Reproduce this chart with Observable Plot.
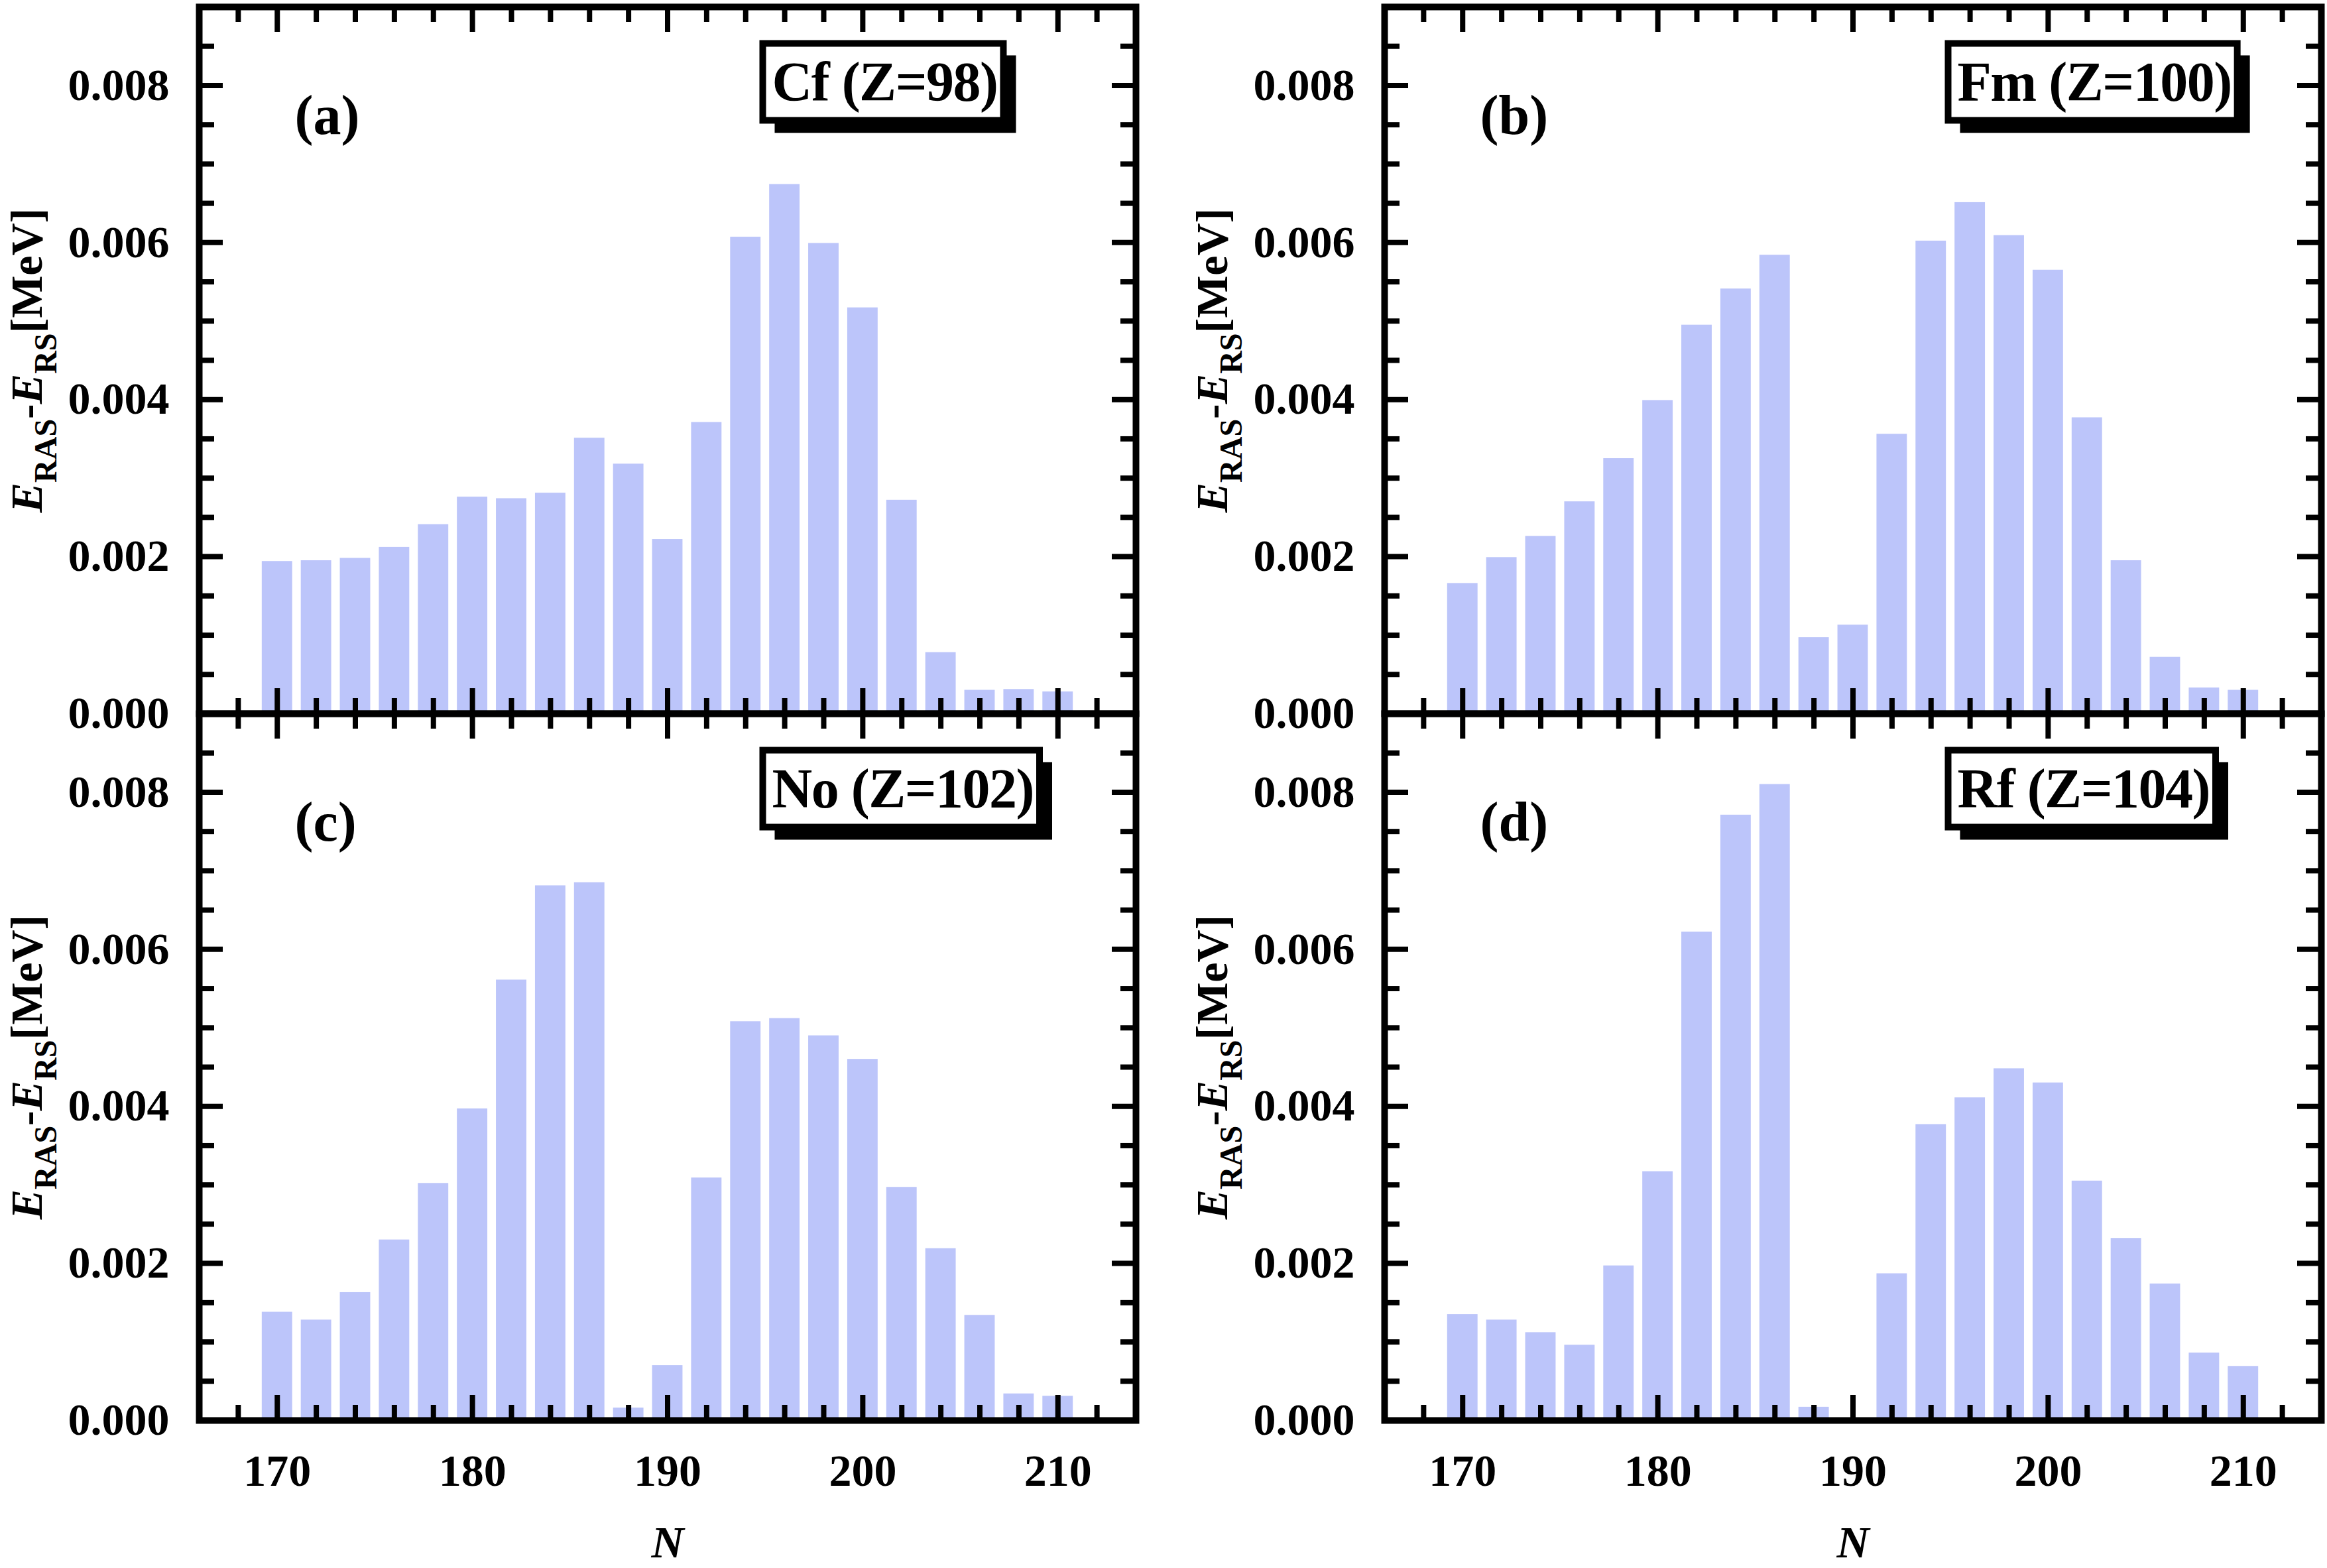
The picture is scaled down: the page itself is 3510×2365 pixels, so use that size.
<!DOCTYPE html>
<html><head><meta charset="utf-8">
<script src="https://cdn.jsdelivr.net/npm/d3@7"></script>
<script src="https://cdn.jsdelivr.net/npm/@observablehq/plot@0.6"></script>
<style>
html,body{margin:0;padding:0;background:#fff;}
#chart{position:relative;width:3510px;height:2365px;background:#fff;overflow:hidden;}
.panel{position:absolute;}
</style></head><body><div id="chart"></div>
<script>
// Neutron numbers
const N = [170,172,174,176,178,180,182,184,186,188,190,192,194,196,198,200,202,204,206,208,210];
// E_RAS - E_RS [MeV] per element
const cf = [0.00194,0.00195,0.00198,0.00212,0.00241,0.00276,0.00274,0.00281,0.00351,0.00318,0.00222,0.00371,0.00607,0.00674,0.00599,0.00517,0.00272,0.00078,0.00030,0.00031,0.00028];
const fm = [0.00166,0.00199,0.00226,0.00270,0.00325,0.00399,0.00495,0.00541,0.00584,0.00097,0.00113,0.00356,0.00602,0.00651,0.00609,0.00565,0.00377,0.00195,0.00072,0.00033,0.00030];
const no = [0.00138,0.00128,0.00163,0.00230,0.00302,0.00397,0.00561,0.00681,0.00685,0.00016,0.00070,0.00309,0.00508,0.00512,0.00490,0.00460,0.00297,0.00219,0.00134,0.00034,0.00031];
const rf = [0.00135,0.00128,0.00112,0.00096,0.00197,0.00317,0.00622,0.00771,0.00810,0.00017,0,0.00187,0.00377,0.00411,0.00448,0.00430,0.00305,0.00232,0.00174,0.00086,0.00069];
// panel titles
const panelIds = ["a","b","c","d"];
const panelNames = ["Cf (Z=98)","Fm (Z=100)","No (Z=102)","Rf (Z=104)"];
const panelValues = [cf, fm, no, rf];
const yLabelText = "ERAS-ERS[MeV]";
// ticks
const xMajor = [170,180,190,200,210];
const xMinor = [168,172,174,176,178,182,184,186,188,192,194,196,198,202,204,206,208,212];
const yMajor = [0,0.002,0.004,0.006,0.008];
const yMinor = [0.0005,0.001,0.0015,0.0025,0.003,0.0035,0.0045,0.005,0.0055,0.0065,0.007,0.0075,0.0085];

const barColor = "#bcc5fa";
const cols = [{left:0,width:1755,mL:300,mR:42},{left:1786,width:1724,mL:302,mR:9}];
const rows = [{top:0,height:1076,mT:10,mB:0},{top:1076,height:1289,mT:0,mB:223}];

const chart = document.getElementById("chart");
const ns = "http://www.w3.org/2000/svg";

function findText(svg, content) {
  return Array.from(svg.querySelectorAll("text")).find(t => t.textContent === content);
}

panelIds.forEach((id, i) => {
  const c = cols[i % 2], r = rows[Math.floor(i / 2)];
  const bottom = i >= 2;
  const pw = c.width - c.mL - c.mR, ph = r.height - r.mT - r.mB;
  const data = N.map((n, k) => ({N: n, E: panelValues[i][k]}));
  const plot = Plot.plot({
    width: c.width, height: r.height,
    marginLeft: c.mL, marginRight: c.mR, marginTop: r.mT, marginBottom: r.mB,
    x: {domain: [166, 214], axis: null},
    y: {domain: [0, 0.009], axis: null},
    style: {fontFamily: '"Liberation Serif", "Times New Roman", serif', fontSize: "68px", fontWeight: "bold",
            background: "transparent", overflow: "visible", maxWidth: "none", color: "#000"},
    marks: [
      Plot.rect(data, {x1: d => d.N - 1, x2: d => d.N + 1, y1: 0, y2: "E", fill: barColor, insetLeft: 6.5, insetRight: 6.5}),
      Plot.ruleX(xMajor, {insetTop: ph - 38, strokeWidth: 8}),
      Plot.ruleX(xMinor, {insetTop: ph - 23, strokeWidth: 8}),
      Plot.ruleX(xMajor, {insetBottom: ph - 38, strokeWidth: 8}),
      Plot.ruleX(xMinor, {insetBottom: ph - 23, strokeWidth: 8}),
      Plot.ruleY(yMajor, {insetRight: pw - 36, strokeWidth: 8}),
      Plot.ruleY(yMinor, {insetRight: pw - 23, strokeWidth: 8}),
      Plot.ruleY(yMajor, {insetLeft: pw - 36, strokeWidth: 8}),
      Plot.ruleY(yMinor, {insetLeft: pw - 23, strokeWidth: 8}),
      Plot.frame({strokeWidth: 10}),
      Plot.axisY(yMajor, {tickSize: 0, tickPadding: 45, tickFormat: d3.format(".3f"), fontSize: 68, label: null}),
      bottom ? Plot.axisX(xMajor, {tickSize: 0, tickPadding: 50, tickFormat: d => String(d), fontSize: 68, label: null}) : null,
      bottom ? Plot.text(["N"], {text: d => d, frameAnchor: "bottom", dy: 206, lineAnchor: "bottom", fontSize: 68, fontStyle: "italic"}) : null,
      Plot.text([`(${id})`], {text: d => d, frameAnchor: "top-left", dx: 144, dy: 191, lineAnchor: "bottom", textAnchor: "start", fontSize: 84}),
      Plot.text([panelNames[i]], {text: d => d, frameAnchor: "top-left", dx: 864, dy: 141, lineAnchor: "bottom", textAnchor: "start", fontSize: 84}),
      Plot.text([yLabelText], {text: d => d, frameAnchor: "left", dx: -238, rotate: -90, lineAnchor: "bottom", textAnchor: "middle", fontSize: 68})
    ]
  });
  const div = document.createElement("div");
  div.className = "panel";
  div.style.left = c.left + "px";
  div.style.top = r.top + "px";
  div.style.width = c.width + "px";
  div.style.height = r.height + "px";
  div.appendChild(plot);
  chart.appendChild(div);

  // boxed element label with drop shadow
  const zt = findText(plot, panelNames[i]);
  if (zt) {
    zt.style.letterSpacing = "-1.5px";
    const bb = zt.getBBox();
    const parent = zt.parentNode;
    const tr = zt.getAttribute("transform");
    const x0 = bb.x - 19, x1 = bb.x + bb.width + 14, y0 = bb.y - 16, y1 = bb.y + bb.height + 16;
    const sh = document.createElementNS(ns, "rect");
    sh.setAttribute("x", x0 + 23); sh.setAttribute("y", y0 + 23);
    sh.setAttribute("width", (x1 + 14) - (x0 + 23)); sh.setAttribute("height", (y1 + 14) - (y0 + 23));
    sh.setAttribute("fill", "#000"); sh.setAttribute("stroke", "none");
    const bx = document.createElementNS(ns, "rect");
    bx.setAttribute("x", x0 + 5); bx.setAttribute("y", y0 + 5);
    bx.setAttribute("width", x1 - x0 - 10); bx.setAttribute("height", y1 - y0 - 10);
    bx.setAttribute("fill", "#fff"); bx.setAttribute("stroke", "#000"); bx.setAttribute("stroke-width", 10);
    if (tr) { sh.setAttribute("transform", tr); bx.setAttribute("transform", tr); }
    parent.insertBefore(sh, zt);
    parent.insertBefore(bx, zt);
  }
  // y label with italic E and subscripts
  const yt = findText(plot, yLabelText);
  if (yt) {
    while (yt.firstChild) yt.removeChild(yt.firstChild);
    const parts = [
      {t: "E", italic: true},
      {t: "RAS", sub: true, dy: 22},
      {t: "-", dy: -22},
      {t: "E", italic: true},
      {t: "RS", sub: true, dy: 22},
      {t: "[MeV]", dy: -22}
    ];
    parts.forEach(p => {
      const ts = document.createElementNS(ns, "tspan");
      ts.textContent = p.t;
      if (p.italic) ts.setAttribute("font-style", "italic");
      if (p.sub) ts.setAttribute("font-size", "48");
      if (p.dy) ts.setAttribute("dy", p.dy);
      yt.appendChild(ts);
    });
  }
});
</script>
</body></html>
